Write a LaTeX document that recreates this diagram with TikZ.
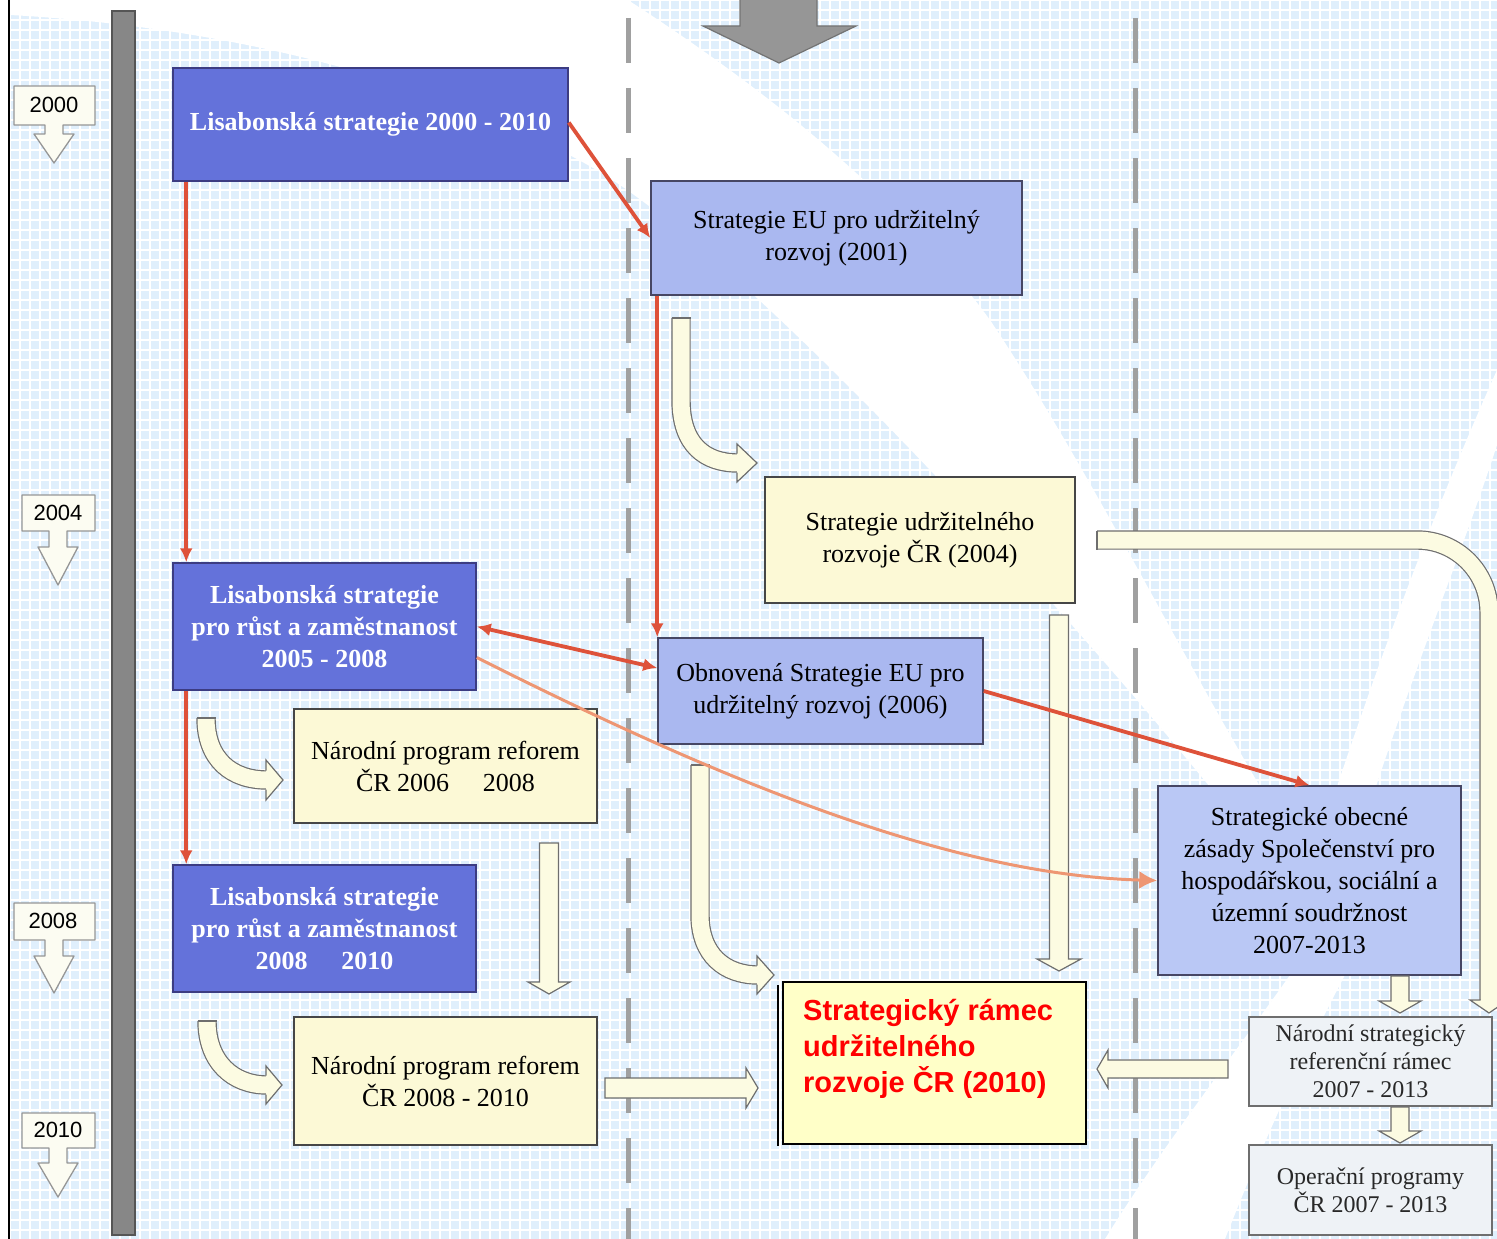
\documentclass[tikz,border=0pt]{standalone}
\usepackage{fontspec}
\setmainfont{Liberation Serif}
\newfontfamily\arialf{Liberation Sans}
\usetikzlibrary{arrows.meta,calc}
\definecolor{bgblue}{RGB}{224,239,252}
\definecolor{dblue}{RGB}{100,114,218}
\definecolor{dborder}{RGB}{60,60,130}
\definecolor{lblue}{RGB}{170,184,240}
\definecolor{lbluetwo}{RGB}{186,200,245}
\definecolor{lborder}{RGB}{70,70,100}
\definecolor{cream}{RGB}{252,249,214}
\definecolor{cborder}{RGB}{70,70,70}
\definecolor{gfill}{RGB}{238,242,246}
\definecolor{gborder}{RGB}{110,110,110}
\definecolor{gtext}{RGB}{40,40,40}
\definecolor{finalfill}{RGB}{255,255,200}
\definecolor{redc}{RGB}{222,82,58}
\definecolor{salmon}{RGB}{238,150,115}
\definecolor{blkfill}{RGB}{252,251,226}
\definecolor{blkgray}{RGB}{110,110,110}
\definecolor{barfill}{RGB}{135,135,135}
\definecolor{bardark}{RGB}{85,85,85}
\definecolor{dashgray}{RGB}{160,160,160}
\definecolor{topfill}{RGB}{150,150,150}
\definecolor{topborder}{RGB}{115,115,115}
\definecolor{markfill}{RGB}{252,252,242}
\definecolor{markborder}{RGB}{150,150,150}
\begin{document}
\begin{tikzpicture}[x=1pt,y=-1pt,
  boxsize/.style 2 args={minimum width=#1pt, minimum height=#2pt},
  dbox/.style={draw=dborder, line width=1.5pt, fill=dblue, text=white,
    font=\fontsize{26}{32}\selectfont\bfseries, align=center, inner sep=0pt},
  lbox/.style={draw=lborder, line width=1.5pt, fill=lblue, text=black,
    font=\fontsize{26}{32}\selectfont, align=center, inner sep=0pt},
  cbox/.style={draw=cborder, line width=1.5pt, fill=cream, text=black,
    font=\fontsize{26}{32}\selectfont, align=center, inner sep=0pt},
  gbox/.style={draw=gborder, line width=1.5pt, fill=gfill, text=gtext,
    font=\fontsize{24}{28}\selectfont, align=center, inner sep=0pt},
  finalbox/.style={draw=black, line width=2.5pt, fill=finalfill, inner sep=0pt},
  finaltext/.style={text=red, font=\arialf\bfseries\fontsize{29}{36}\selectfont,
    align=left, inner sep=0pt, anchor=north west},
  yeartext/.style={font=\arialf\fontsize{22}{26}\selectfont, text=black, inner sep=0pt},
  marker/.style={fill=markfill, draw=markborder, line width=1.3pt, line join=round},
  redline/.style={draw=redc, line width=3.8pt, -{Latex[length=14pt,width=13pt]}},
  redboth/.style={draw=redc, line width=3.8pt, {Latex[length=14pt,width=13pt]}-{Latex[length=14pt,width=13pt]}},
  salmonline/.style={draw=salmon, line width=3pt, -{Latex[length=18pt,width=18pt]}},
  blk/.style={fill=blkfill, draw=blkgray, line width=1.2pt, line join=miter},
  blkshaft/.style={draw=blkgray, line width=1.2pt, double=blkfill, double distance=17pt},
  blkcap/.style={draw=blkgray, line width=1.2pt},
  dashline/.style={draw=dashgray, line width=5pt, dash pattern=on 45pt off 25pt}
]
\useasboundingbox (0,0) rectangle (1497,1239);
% background
\fill[white] (0,0) rectangle (1497,1239);
\fill[bgblue] (10,0) rectangle (1497,1239);
\draw[white, line width=1.6pt, step=10pt] (10,0) grid (1497,1239);
% white swooshes
\fill[white] (10,0) -- (10,15) .. controls (250,28) and (460,90) .. (600,172)
  .. controls (760,270) and (1100,640) .. (1300,900) -- (1330,900)
  .. controls (1200,700) and (1110,500) .. (990,320)
  .. controls (880,170) and (720,60) .. (628,0) -- cycle;
\fill[white] (1497,370) .. controls (1430,520) and (1370,680) .. (1300,900)
  -- (1340,900) .. controls (1400,700) and (1460,560) .. (1497,445) -- cycle;
\fill[white] (1290,975) -- (1345,975) .. controls (1300,1060) and (1260,1150) .. (1225,1239)
  -- (1105,1239) .. controls (1160,1150) and (1230,1060) .. (1290,975) -- cycle;
% left border line
\draw[black, line width=2pt] (9,0) -- (9,1239);
% timeline bar
\filldraw[fill=barfill, draw=bardark, line width=1.5pt] (112,11) rectangle (135,1235);
% dashed separators
\draw[dashline] (628,18) -- (628,1239);
\draw[dashline] (1135,18) -- (1135,1239);
% top gray arrow
\filldraw[fill=topfill, draw=topborder, line width=1.2pt, line join=miter]
  (740,-5) -- (817,-5) -- (817,26) -- (856,26) -- (779,63) -- (703,26) -- (740,26) -- cycle;

% year markers
\filldraw[marker] (14,86) -- (95,86) -- (95,125) -- (63,125) -- (63,134) -- (74,134) -- (54,163)
  -- (34,134) -- (45,134) -- (45,125) -- (14,125) -- cycle;
\node[yeartext] (y2000) at (54,105) {2000};
\filldraw[marker] (22,495) -- (95,495) -- (95,531) -- (67,531) -- (67,547) -- (78,547) -- (58,585)
  -- (38,547) -- (49,547) -- (49,531) -- (22,531) -- cycle;
\node[yeartext] (y2004) at (58,513) {2004};
\filldraw[marker] (14,903) -- (95,903) -- (95,940) -- (63,940) -- (63,956) -- (74,956) -- (54,993)
  -- (34,956) -- (45,956) -- (45,940) -- (14,940) -- cycle;
\node[yeartext] (y2008) at (53,921) {2008};
\filldraw[marker] (22,1113) -- (95,1113) -- (95,1148) -- (67,1148) -- (67,1163) -- (78,1163) -- (58,1197)
  -- (38,1163) -- (49,1163) -- (49,1148) -- (22,1148) -- cycle;
\node[yeartext] (y2010) at (58,1130) {2010};

% block arrows (cream)
% A: curved
\draw[blkshaft] (681,318) -- (681,400) .. controls (681,445) and (705,463) .. (738,463);
\draw[blkcap] (671.5,318) -- (690.5,318);
\filldraw[blk] (737,472.5) -- (737,482) -- (757,463) -- (737,444) -- (737,453.5);
% B
\draw[blkshaft] (206,718) .. controls (206,760) and (232,780) .. (267,780);
\draw[blkcap] (196.5,718) -- (215.5,718);
\filldraw[blk] (266,789.5) -- (266,800) -- (283,780) -- (266,760) -- (266,770.5);
% C
\draw[blkshaft] (207,1021) .. controls (207,1062) and (233,1085) .. (267,1085);
\draw[blkcap] (197.5,1021) -- (216.5,1021);
\filldraw[blk] (266,1094.5) -- (266,1104) -- (282,1085) -- (266,1066) -- (266,1075.5);
% D
\draw[blkshaft] (700,765) -- (700,915) .. controls (700,955) and (725,975) .. (758,975);
\draw[blkcap] (690.5,765) -- (709.5,765);
\filldraw[blk] (757,984.5) -- (757,994) -- (774,975) -- (757,956) -- (757,965.5);
% E straight down
\filldraw[blk] (539.5,843) -- (558.5,843) -- (558.5,982) -- (570,982) -- (549,994) -- (528,982) -- (539.5,982) -- cycle;
% F straight down
\filldraw[blk] (1049.5,615) -- (1068.5,615) -- (1068.5,959) -- (1081,959) -- (1059,971) -- (1037,959) -- (1049.5,959) -- cycle;
% G straight right
\filldraw[blk] (605,1078) -- (746,1078) -- (746,1068) -- (758,1088) -- (746,1108) -- (746,1098) -- (605,1098) -- cycle;
% H straight left
\filldraw[blk] (1228,1060) -- (1108,1060) -- (1108,1050) -- (1097,1069) -- (1108,1088) -- (1108,1078) -- (1228,1078) -- cycle;
% I: L-shaped
\draw[blkshaft, rounded corners=72pt] (1097,540) -- (1489,540) -- (1489,1001);
\draw[blkcap] (1097,530.5) -- (1097,549.5);
\filldraw[blk] (1480.5,1000) -- (1470,1000) -- (1489,1013) -- (1508,1000) -- (1497.5,1000);

% boxes
\node[dbox, boxsize={395}{113}] (b1) at (370.5,124.5) {Lisabonská strategie 2000 - 2010};
\node[lbox, boxsize={371}{114}] (b2) at (836.5,238) {Strategie EU pro udržitelný\\rozvoj (2001)};
\node[cbox, boxsize={310}{126}] (b3) at (920,540) {Strategie udržitelného\\rozvoje ČR (2004)};
\node[dbox, boxsize={303}{127}] (b4) at (324.5,626.5) {Lisabonská strategie\\pro růst a zaměstnanost\\2005 - 2008};
\node[lbox, boxsize={325}{106}] (b5) at (820.5,691) {Obnovená Strategie EU pro\\udržitelný rozvoj (2006)};
\node[cbox, boxsize={303}{114}] (b6) at (445.5,766) {Národní program reforem\\ČR 2006\hspace{1.3em}2008};
\node[dbox, boxsize={303}{127}] (b7) at (324.5,928.5) {Lisabonská strategie\\pro růst a zaměstnanost\\2008\hspace{1.3em}2010};
\node[cbox, boxsize={303}{128}] (b8) at (445.5,1081) {Národní program reforem\\ČR 2008 - 2010};
\node[lbox, fill=lbluetwo, boxsize={303}{189}] (b9) at (1309.5,880.5) {Strategické obecné\\zásady Společenství pro\\hospodářskou, sociální a\\územní soudržnost\\2007-2013};
\draw[black, line width=1.5pt] (778,985) -- (778,1146);
\node[finalbox, boxsize={303}{162}] (b10) at (934.5,1063) {};
\node[finaltext] (b10t) at (803,999) {Strategický rámec\\udržitelného\\rozvoje ČR (2010)};
\node[gbox, boxsize={243}{89}] (b11) at (1370.5,1061.5) {Národní strategický\\referenční rámec\\2007 - 2013};
\node[gbox, boxsize={243}{90}] (b12) at (1370.5,1190) {Operační programy\\ČR 2007 - 2013};

% small down block arrows between right boxes
\filldraw[blk] (1391,976) -- (1409,976) -- (1409,1001) -- (1421,1001) -- (1400,1013) -- (1379,1001) -- (1391,1001) -- cycle;
\filldraw[blk] (1391,1107) -- (1409,1107) -- (1409,1131) -- (1421,1131) -- (1400,1143) -- (1379,1131) -- (1391,1131) -- cycle;

% red connectors
\draw[redline] ([xshift=14pt]b1.south west) -- ([xshift=14pt]b4.north west);
\draw[redline] ([xshift=14pt]b4.south west) -- ([xshift=14pt]b7.north west);
\draw[redline] ([yshift=2pt]b1.east) -- (b2.west);
\draw[redline] ([xshift=7pt]b2.south west) -- (b5.north west);
\draw[redboth] (b4.east) -- ([yshift=23pt]b5.west);
\draw[redline] (b5.east) -- (b9.north);
\draw[salmonline] ([yshift=-31pt]b4.east) .. controls (720,780) and (950,875) .. (b9.west);
\end{tikzpicture}
\end{document}
